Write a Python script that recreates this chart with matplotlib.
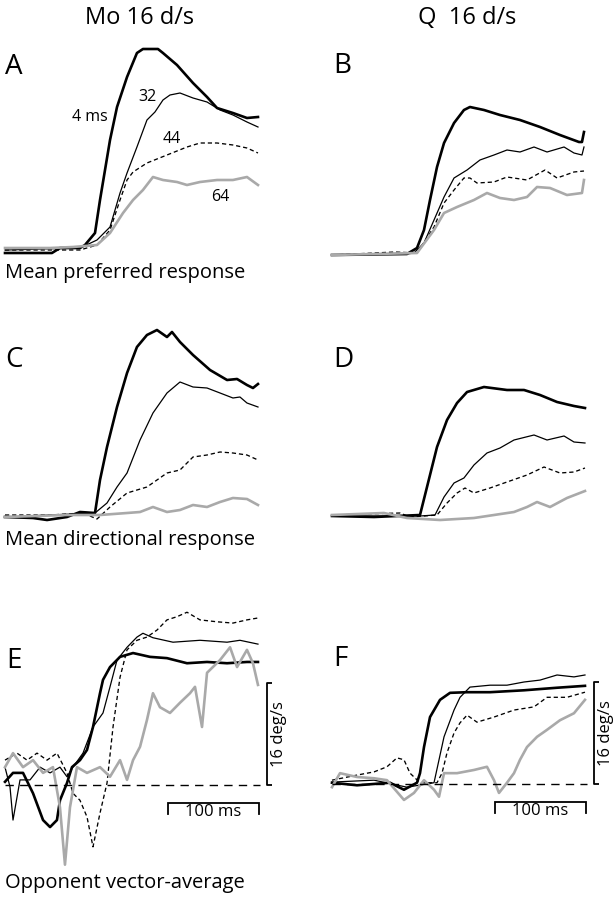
import matplotlib
matplotlib.use("Agg")
import matplotlib.pyplot as plt

plt.rcParams['font.family'] = ['Open Sans', 'DejaVu Sans']

# ---------------- data (time in ms, responses in panel units) ----------------
# Panel A: mean preferred response, monkey Mo (normalized units)
A_t4 = [0, 51.6, 60.4, 82.4, 87.9, 98.9, 104.4, 115.4, 123.1, 134.1, 145, 151.6, 168.1, 173.6, 189, 206.6, 222, 233, 250.5, 265.9, 278]
A_v4 = [-1.5, -1.5, 1, 1, 2.5, 8.5, 25, 55, 71.5, 86.5, 98.5, 100.5, 100.5, 98.5, 92.5, 83.5, 76.5, 71, 68.5, 66, 66.5]
A_t32 = [0, 82.4, 101.1, 115.4, 126.4, 134.1, 145, 156, 164.8, 173.6, 181.3, 192.3, 206.6, 222, 236.3, 250.5, 265.9, 278]
A_v32 = [0, 1, 5, 11.5, 28.5, 38.5, 51.5, 65, 69, 75, 77.5, 78.5, 76, 74, 70, 67.5, 64, 61.5]
A_t44 = [0, 82.4, 101.1, 115.4, 126.4, 134.1, 140.7, 156, 178, 200, 214.3, 233, 250.5, 265.9, 278]
A_v44 = [0, 0, 2.5, 10, 25, 35, 39, 43.5, 47.5, 51.5, 53.5, 53.5, 52.5, 51, 48.5]
A_t64 = [0, 49.5, 74.7, 101.1, 115.4, 129.7, 140.7, 151.6, 162.6, 173.6, 189, 200, 214.3, 233, 250.5, 265.9, 278]
A_v64 = [1, 1, 1.5, 2.5, 8.5, 18.5, 25, 30, 36.5, 35, 34, 32.5, 34, 35, 35, 36.5, 32.5]

# Panel B: mean preferred response, monkey Q
B_t4 = [0, 82.4, 93.4, 101.1, 107.7, 115.4, 123.1, 134.1, 145, 151.6, 167, 184.6, 206.6, 228.6, 250.5, 271.4, 274.7, 276.9]
B_v4 = [0, 0.5, 3.5, 12.5, 27.5, 44, 56, 66, 72.5, 74, 72.5, 70, 67.5, 64, 60, 56.5, 56.5, 61.5]
B_t32 = [0, 82.4, 90.1, 101.1, 112.1, 123.1, 134.1, 148.4, 162.6, 178, 192.3, 206.6, 222, 236.3, 255, 265.9, 274.7, 276.9]
B_v32 = [0, 0.5, 1, 6, 17.5, 29, 38.5, 42.5, 47.5, 50, 52.5, 51.5, 54, 51.5, 54, 51, 50, 54]
B_t44 = [0, 69.2, 93.4, 112.1, 123.1, 134.1, 145, 151.6, 159.3, 178, 192.3, 214.3, 234.1, 247.3, 265.9, 276.9]
B_v44 = [0, 1.5, 1, 14, 26, 32.5, 38.5, 38.5, 36, 36.5, 39, 37.5, 42.5, 38.5, 41.5, 42]
B_t64 = [0, 93.4, 112.1, 123.1, 137.4, 156, 170.3, 184.6, 200, 214.3, 225.3, 239.6, 258.2, 274.7, 276.9]
B_v64 = [0, 1, 12.5, 21, 24, 27.5, 31, 28.5, 27.5, 29, 34, 33.5, 30, 31, 37.5]

# Panel C: mean directional response, monkey Mo
C_t4 = [0, 30.8, 46.2, 68.1, 82.4, 98.9, 104.4, 112.1, 123.1, 134.1, 145, 156, 167, 178, 183.5, 192.3, 206.6, 225.3, 244, 255, 265.9, 272.5, 278]
C_v4 = [0, -0.5, -1.5, 0, 2.5, 2, 18.5, 35, 55, 72, 85, 91, 93.5, 90, 92.5, 87.5, 81, 73.5, 68.5, 69, 66, 64.5, 66.5]
C_t32 = [0, 98.9, 112.1, 123.1, 134.1, 148.4, 162.6, 178, 192.3, 206.6, 222, 236.3, 250.5, 258.2, 265.9, 278]
C_v32 = [0, 2, 7, 15, 22, 38.5, 52, 62, 67.5, 65, 64.5, 62, 59.5, 60, 57, 55]
C_t44 = [0, 49.5, 85.7, 101.1, 115.4, 134.1, 156, 178, 192.3, 206.6, 222, 236.3, 250.5, 265.9, 278]
C_v44 = [1, 1, 2, -1, 5, 12, 15, 22, 23.5, 30, 31, 32.5, 32, 31, 28.5]
C_t64 = [0, 68.1, 104.4, 134.1, 148.4, 162.6, 178, 192.3, 206.6, 222, 236.3, 250.5, 265.9, 278]
C_v64 = [0, 1, 1, 2, 2.5, 5, 2.5, 3.5, 6, 5, 7.5, 9.5, 9, 6]

# Panel D: mean directional response, monkey Q
D_t4 = [0, 46.2, 96.7, 104.4, 115.4, 126.4, 137.4, 148.4, 167, 192.3, 211, 228.6, 247.3, 265.9, 278]
D_v4 = [0, -0.5, 0.5, 14.5, 34.5, 48, 56.5, 62, 64.5, 63, 63, 60.5, 57, 55, 54]
D_t32 = [0, 96.7, 113.2, 123.1, 134.1, 145, 156, 170.3, 184.6, 200, 222, 236.3, 255, 265.9, 278]
D_v32 = [0, 0, 0.5, 9.5, 16.5, 19, 25.5, 31.5, 34, 38, 40.5, 38, 40, 37, 36.5]
D_t44 = [0, 74.7, 85.7, 115.4, 126.4, 137.4, 146.2, 156, 173.6, 192.3, 214.3, 233, 250.5, 265.9, 278]
D_v44 = [0.5, 1.5, -0.5, 0.5, 6.5, 11.5, 14, 11.5, 14, 17, 20.5, 24.5, 21.5, 22, 24]
D_t64 = [0, 57.1, 82.4, 118.7, 156, 178, 200, 214.3, 225.3, 239.6, 258.2, 278]
D_v64 = [0.5, 1.5, -1, -2, -1, 0.5, 2, 4.5, 7, 4.5, 9, 12.5]

# Panel E: opponent vector-average eye speed, monkey Mo (deg/s)
E_t4 = [0, 8.8, 19.8, 30.8, 41.8, 49.5, 57.1, 60.4, 68.1, 73.6, 82.4, 90.1, 96.7, 104.4, 107.7, 115.4, 126.4, 140.7, 159.3, 178, 200, 222, 244, 265.9, 278]
E_v4 = [0.5, 1.9, 1.9, -1.3, -5.5, -6.6, -5.5, -2.4, 0.3, 2.8, 3.9, 5.5, 9.1, 14.4, 16.5, 18.5, 20.1, 20.7, 20.1, 19.9, 19.1, 19.3, 19.1, 19.3, 19.3]
E_t32 = [0, 5.5, 8.8, 16.5, 27.5, 38.5, 49.5, 60.4, 68.1, 74.7, 85.7, 96.7, 107.7, 115.4, 123.1, 134.1, 145, 151.6, 162.6, 184.6, 214.3, 244, 258.2, 278]
E_v32 = [2.8, -0.3, -5.5, 0.8, 0.8, 2.8, 1.9, 2.8, 1.3, 2.8, 5, 9.1, 11.3, 15.4, 19.6, 21.6, 23.2, 23.8, 23.1, 22.4, 22.7, 22.4, 22.7, 22.1]
E_t44 = [0, 13.2, 24.2, 35.2, 46.2, 57.1, 68.1, 74.7, 82.4, 90.1, 96.7, 104.4, 112.1, 118.7, 126.4, 134.1, 145, 156, 167, 178, 189, 200, 214.3, 233, 250.5, 265.9, 278]
E_v44 = [3.9, 5, 3.9, 5, 3.9, 5, 1.9, -1.3, -2.4, -5, -9.7, -4.4, 0.3, 9.1, 16.9, 21.2, 22.7, 23.2, 24.3, 25.9, 26.4, 27.1, 25.9, 25.6, 25.4, 25.9, 26.2]
E_t64 = [0, 8.8, 19.8, 30.8, 41.8, 52.7, 60.4, 65.9, 71.4, 79.1, 90.1, 104.4, 115.4, 126.4, 134.1, 140.7, 148.4, 156, 162.6, 170.3, 181.3, 192.3, 203.3, 208.8, 216.5, 222, 236.3, 247.3, 255, 265.9, 272.5, 278]
E_v64 = [2.8, 5, 2.8, 3.9, 1.9, 2.8, -3.5, -12.5, -3.5, 2.8, 1.9, 2.8, 1.3, 3.9, 0.8, 3.9, 6, 10.2, 14.4, 12.2, 11.3, 12.9, 14.4, 15.4, 9.1, 17.6, 19.6, 21.6, 18.5, 21.2, 19.1, 15.7]

# Panel F: opponent vector-average eye speed, monkey Q (deg/s)
F_t4 = [0, 27.5, 63.7, 79.1, 93.4, 96.7, 101.1, 107.7, 118.7, 129.7, 148.4, 173.6, 211, 247.3, 278]
F_v4 = [0.2, -0.2, 0.2, -0.9, 0.2, 1.7, 5.8, 10.5, 13.2, 14.3, 14.4, 14.4, 14.7, 15.1, 15.4]
F_t32 = [0, 46.2, 82.4, 112.1, 117.6, 123.1, 134.1, 140.7, 151.6, 173.6, 192.3, 211, 228.6, 247.3, 265.9, 278]
F_v32 = [0.3, 0.6, -0.5, 0.2, 3.8, 7.4, 11.6, 13.6, 15.2, 15.5, 15.5, 16, 16.3, 17.1, 16.8, 17.1]
F_t44 = [0, 27.5, 46.2, 60.4, 71.4, 79.1, 85.7, 96.7, 115.4, 120.9, 126.4, 134.1, 140.7, 148.4, 159.3, 178, 200, 222, 236.3, 258.2, 278]
F_v44 = [0.6, 1.4, 1.9, 2.7, 4.1, 3.8, 1.7, 0.2, 0.2, 1.7, 4.9, 8, 9.6, 10.8, 9.7, 10.5, 11.6, 12.1, 13.6, 13.6, 14.4]
F_t64 = [0, 8.8, 27.5, 46.2, 60.4, 79.1, 90.1, 101.1, 112.1, 117.6, 123.1, 137.4, 156, 170.3, 178, 183.5, 192.3, 200, 206.6, 214.3, 225.3, 236.3, 250.5, 265.9, 278]
F_v64 = [-0.5, 1.7, 1.1, 0.9, 0.6, -2.5, -1.4, 0.6, -0.9, -2, 1.7, 1.7, 2.2, 2.7, 0.6, -1.4, 0.2, 1.7, 3.8, 5.8, 7.4, 8.5, 10, 11.1, 13.2]

# annotations / scale bars
duration_labels = ["4 ms", "32", "44", "64"]
col_titles = ["Mo 16 d/s", "Q  16 d/s"]
row_titles = ["Mean preferred response", "Mean directional response", "Opponent vector-average"]
panel_letters = ["A", "B", "C", "D", "E", "F"]
SCALE_T_MS = 100
SCALE_V_DEG = 16
SCALE_T_LABEL = "100 ms"
SCALE_V_LABEL = "16 deg/s"

# ---------------- layout ----------------
W, H = 614, 900
fig = plt.figure(figsize=(W / 100, H / 100), dpi=100)

PX_MS = 0.91       # pixels per ms
PX_N = 2.0         # pixels per normalized unit (A-D)
PX_DEG = 6.375     # pixels per deg/s (E-F)


def make_ax(x0, base, ppu, xlim, ylim):
    left = x0 + xlim[0] * PX_MS
    width = (xlim[1] - xlim[0]) * PX_MS
    bottom_px = base - ylim[0] * ppu
    height = (ylim[1] - ylim[0]) * ppu
    ax = fig.add_axes([left / W, 1 - bottom_px / H, width / W, height / H])
    ax.set_xlim(*xlim)
    ax.set_ylim(*ylim)
    ax.axis('off')
    return ax


def ftext(x, y, s, **kw):
    fig.text(x / W, 1 - y / H, s, **kw)


GRAY = '#a9a9a9'
styles = [
    dict(color='black', lw=1.9, solid_joinstyle='round'),
    dict(color='black', lw=0.9),
    dict(color='black', lw=0.95, ls=(0, (3.2, 2.2))),
    dict(color=GRAY, lw=1.9),
]


def draw(ax, series):
    for (t, v), st in zip(series, styles):
        ax.plot(t, v, clip_on=False, **st)


panels = [
    (5, 250, PX_N, [(A_t4, A_v4), (A_t32, A_v32), (A_t44, A_v44), (A_t64, A_v64)]),
    (332, 255, PX_N, [(B_t4, B_v4), (B_t32, B_v32), (B_t44, B_v44), (B_t64, B_v64)]),
    (5, 517, PX_N, [(C_t4, C_v4), (C_t32, C_v32), (C_t44, C_v44), (C_t64, C_v64)]),
    (332, 516, PX_N, [(D_t4, D_v4), (D_t32, D_v32), (D_t44, D_v44), (D_t64, D_v64)]),
    (5, 785, PX_DEG, [(E_t4, E_v4), (E_t32, E_v32), (E_t44, E_v44), (E_t64, E_v64)]),
    (332, 784, PX_DEG, [(F_t4, F_v4), (F_t32, F_v32), (F_t44, F_v44), (F_t64, F_v64)]),
]

axes = []
for i, (x0, base, ppu, series) in enumerate(panels):
    if i < 4:
        ax = make_ax(x0, base, ppu, (0, 310), (-20, 110))
    else:
        ax = make_ax(x0, base, ppu, (0, 310), (-16, 30))
    draw(ax, series)
    axes.append(ax)

# duration labels in panel A
axA = axes[0]
for lab, (t, v) in zip(duration_labels, [(93, 66.5), (156, 76.5), (183, 55.5), (236, 26.5)]):
    axA.text(t, v, lab, ha='center', va='center', fontsize=11.5)

# zero lines and scale bars in E and F
for ax in axes[4:]:
    ax.plot([0, 280], [0, 0], color='black', lw=1.0, ls=(0, (6, 4.5)), clip_on=False)
    # vertical scale bar
    tb = 288
    ax.plot([tb + 5.5, tb, tb, tb + 5.5], [SCALE_V_DEG, SCALE_V_DEG, 0, 0],
            color='black', lw=1.3, clip_on=False, solid_capstyle='butt')
    ax.text(tb + 13, SCALE_V_DEG / 2, SCALE_V_LABEL, rotation=90, ha='center',
            va='center', fontsize=12)
    # horizontal time bar
    t1 = 279
    t0 = t1 - SCALE_T_MS
    ax.plot([t0, t0, t1, t1], [-4.6, -2.8, -2.8, -4.6], color='black', lw=1.3,
            clip_on=False, solid_joinstyle='miter')
    ax.text((t0 + t1) / 2, -4.3, SCALE_T_LABEL, ha='center', va='center', fontsize=12)

# text
ftext(140, 18, col_titles[0], ha='center', va='center', fontsize=17)
ftext(467, 18, col_titles[1], ha='center', va='center', fontsize=17)
for lab, (x, y) in zip(panel_letters, [(5, 67), (333, 66), (5, 360), (333, 360), (6, 661), (333, 659)]):
    ftext(x, y, lab, ha='left', va='center', fontsize=20)
for lab, y in zip(row_titles, [278, 545, 888]):
    ftext(5, y, lab, ha='left', va='baseline', fontsize=14.5)

fig.savefig('out.png', dpi=100)
